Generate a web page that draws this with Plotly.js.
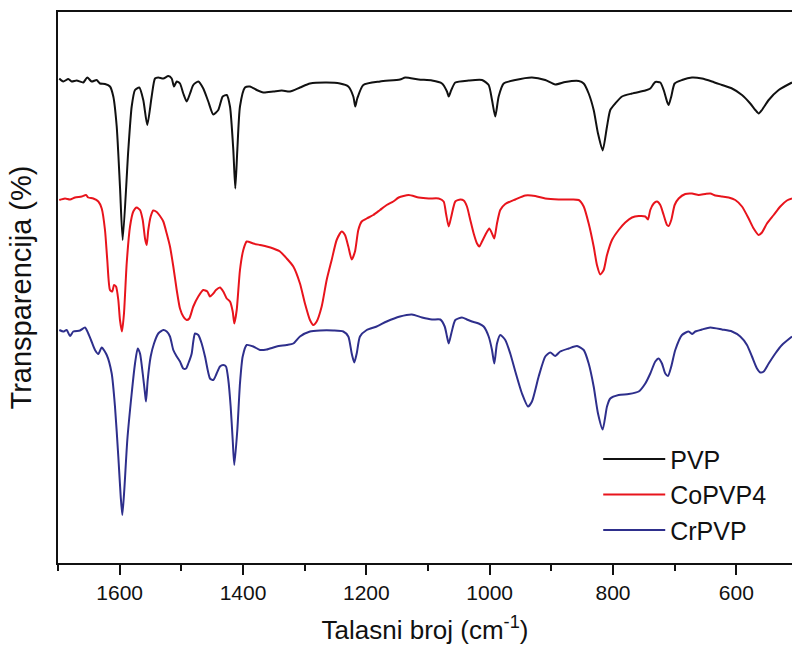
<!DOCTYPE html>
<html>
<head>
<meta charset="utf-8">
<script src="https://cdn.plot.ly/plotly-3.0.1.min.js"></script>
<style>html,body{margin:0;padding:0;background:#fff;}#chart{width:792px;height:652px;}</style>
</head>
<body>
<div id="chart"></div>
<script>
// ---- Data (wavenumber in cm^-1, transparency in %, curves offset for clarity) ----
const seriesNames = ["PVP", "CoPVP4", "CrPVP"];

const wnPVP = [1697.9,1691.4,1683.3,1677.8,1669.7,1659,1652.5,1645.4,1637.2,1631.9,1623.8,1615.7,1610.3,1604.8,1599.5,1595.1,1586,1580.5,1575.1,1568.2,1561.7,1555.2,1548.1,1542.7,1537.4,1529.2,1521.1,1515.6,1511.9,1507.5,1502.2,1496.8,1491.3,1485.9,1480.6,1472.5,1464.4,1456.3,1448.2,1440.1,1432.9,1426.4,1421.1,1415.7,1412.5,1409.2,1404.9,1396.8,1388.7,1377.8,1367.1,1350.9,1337.2,1323.8,1307.6,1291.4,1264.3,1242.7,1229.2,1221.1,1217.9,1214.7,1204.9,1177.8,1145.4,1136.8,1115.1,1093.5,1077.3,1069.2,1066.4,1062.2,1055.7,1034,1012.4,1001.6,996.2,990.9,985.4,977.3,958.4,931.4,909.8,893.6,877.4,855.6,847.5,839.4,831.3,824.3,816.7,809.7,804.4,796.3,785.4,769.2,747.6,739.5,731.4,723.3,717.8,712.4,709.7,705.5,700,688.1,671.9,655.7,639.5,623.3,607,590.8,577.4,569.2,563.7,558.4,547.5,531.3,509.7];
const tPVP = [96.9,96.3,96.8,96.3,96.5,96.1,97.1,96.3,96.6,95.9,95.8,95.3,93.3,87.3,75.3,64.6,82.6,91.3,94.6,95.1,92.6,87.6,93.3,96.9,97.1,96.9,97.4,96.9,95.3,96.3,95.9,93.9,92.3,93.9,95.6,96.3,94.9,92.3,89.7,90.6,93.3,93.6,91.3,82.6,74.9,82.6,91.3,95.1,95.3,94.6,94.1,94.3,94.5,94.3,95.1,95.9,96.1,95.9,95.3,93.3,91.3,92.9,95.6,96.3,96.7,97.1,96.7,96.5,95.9,94.3,93.3,94.6,96.1,96.5,96.6,95.6,92.6,89.3,93.3,95.9,96.6,97.1,96.6,95.7,96.2,96.4,95.9,93.9,90.6,85.9,82.5,87.3,90.6,91.9,93.3,93.9,94.5,94.9,96.2,96.1,94.6,92.3,91.6,93.3,95.9,96.6,97.1,96.9,96.3,95.6,94.9,93.6,91.9,90.6,89.9,90.6,92.6,94.6,96.1];

const wnCo = [1697.9,1688.6,1680.5,1672.4,1661.6,1654.6,1650.9,1642.8,1634.6,1629.1,1623.8,1620.1,1615.7,1611.9,1609.2,1605.9,1602.2,1599.5,1596.2,1593,1588.6,1583.2,1577.9,1572.4,1567,1562.6,1558.9,1556.2,1553.6,1549.7,1545.5,1539.9,1534.6,1529.2,1523.7,1518.4,1513,1507.5,1502.2,1496.8,1491.3,1487.1,1480.6,1472.5,1464.4,1457.9,1453.5,1448.2,1443.8,1437.3,1432,1426.4,1421.1,1416.7,1414.1,1410.2,1404.9,1399.5,1394,1383.3,1372.4,1361.6,1350.9,1340,1329.1,1318.4,1307.6,1299.5,1291.4,1286,1280.5,1272.4,1264.3,1256.2,1248.1,1240,1234.6,1229.2,1223.7,1218.4,1213,1207.5,1199.4,1188.7,1177.8,1167,1156.3,1147.5,1131.3,1115.1,1098.9,1082.7,1074.6,1070.8,1066.4,1062.2,1055.7,1047.6,1042.1,1036.8,1031.4,1025.9,1020.5,1016.8,1012.4,1007.1,1000.6,996.2,992.5,988.1,982.8,974.7,958.4,942.2,926,909.8,888.1,866.5,855.6,847.5,839.4,831.3,826,820.6,815.1,809.7,801.6,790.8,780.1,769.2,758.3,747.6,743.3,739.5,734,728.7,723.3,717.8,712.4,709.7,705.5,700,693.5,682.8,671.9,661,650.3,642.2,634.1,623.3,612.4,601.7,590.8,580,571.9,563.7,558.4,550.3,539.4,528.7,517.9,509.7];
const tCo = [72.6,72.9,72.7,73.1,73.3,73.6,73.1,72.9,72.3,70.9,66.6,60.6,54.6,54.3,55.6,55.3,52.6,48.6,46.3,49.9,59.9,67.3,70.3,71.1,70.6,68.6,64.9,63.6,66.6,69.3,70.5,70.2,69.4,68.3,65.9,63.3,59.3,54.6,50.9,49.3,48.6,48.9,51.3,53.3,54.6,54.3,53.3,53.9,54.6,55.1,54.3,52.9,52.3,50.3,47.9,50.6,58.6,62.6,64.3,63.9,63.6,63.3,62.9,62.3,60.9,59.3,55.9,51.9,48.6,47.6,48.3,51.3,56.6,60.6,64.6,66.3,65.6,63.3,60.7,62.3,66.6,68.3,68.9,69.6,70.6,71.6,72.3,73.1,73.6,73.1,72.9,72.9,72.3,69.9,67.3,69.3,72.3,72.7,72.5,71.3,68.6,65.9,63.9,63.3,64.3,65.6,66.9,65.9,64.9,67.9,70.6,71.8,72.7,73.5,73.4,72.9,72.7,72.7,72.6,71.3,67.9,63.3,59.6,57.7,58.6,61.6,64.6,66.6,68.1,69.1,69.4,69.3,68.7,70.6,71.9,72.3,71.6,69.6,67.6,67.4,68.6,71.6,72.9,73.8,73.9,73.6,73.8,73.9,73.5,73.3,73.1,72.6,71.3,68.9,66.9,65.6,66.1,67.9,69.6,71.3,72.5,72.9];

const wnCr = [1697.9,1691.4,1685.9,1680.5,1675.2,1664.3,1656.2,1650.9,1646.5,1640,1634.6,1629.1,1621,1612.9,1607.6,1602.2,1598.3,1595.7,1592.5,1587.6,1580.5,1575.1,1570.8,1567,1562.6,1558.9,1557.3,1554.5,1549.7,1544.3,1537.4,1529.2,1523.7,1518.4,1513,1507.5,1502.2,1496.8,1492.4,1488.7,1483.2,1480.6,1477.8,1472.5,1467,1461.6,1453.5,1448.2,1442.7,1437.3,1432,1427.6,1423.8,1420,1416.7,1414.1,1409.2,1404.9,1400.5,1394,1383.3,1372.4,1361.6,1345.4,1329.1,1318.4,1307.6,1291.4,1275.1,1253.6,1237.4,1229.2,1223.7,1219.5,1215.6,1210.3,1199.4,1183.2,1167,1145.4,1126,1109.7,1093.5,1080.1,1072.9,1069.2,1066.4,1062.2,1055.7,1044.9,1036.8,1028.7,1017.8,1009.7,1001.6,996.2,992.5,988.1,982.8,974.7,966.6,958.4,947.6,937.8,931.4,920.5,909.8,901.7,893.6,885.5,871.8,858.4,847.5,839.4,831.3,824.3,816.7,809.7,804.4,790.8,774.6,758.3,747.6,739.5,731.4,725.9,720.6,715.2,710.8,705.5,699,688.1,677.3,671.9,666.5,655.7,642.2,623.3,607,593.6,582.7,574.6,566.5,561.1,555.6,547.5,536.8,526,509.7];
const tCr = [46.6,46.3,46.6,45.4,46.3,46.5,47.1,45.9,44.6,42.6,41.8,43.1,41.6,37.9,31.3,21.3,13.3,9.6,14.6,24.6,33.9,39.9,42.9,41.9,37.9,33.9,32.3,36.6,41.3,43.9,45.9,46.6,46.3,45.3,42.6,41.3,40.3,38.9,38.9,39.9,41.9,44.3,45.9,45.6,43.9,41.3,36.9,36.6,37.9,39.3,39.6,39.3,36.6,31.3,24.6,19.6,26.6,35.9,41.3,43.6,43.3,42.6,42.7,43.3,43.6,43.9,45.3,46.3,46.5,46.5,46.3,45.3,41.9,40.1,41.9,45.3,46.6,47.3,48.3,49.3,49.7,49.1,48.7,48.7,47.3,45.3,43.9,45.9,48.6,49.1,48.7,48.3,47.9,47.3,45.3,42.6,39.9,43.9,45.6,44.6,41.9,38.3,33.9,31.3,32.3,37.3,41.3,42.1,41.4,42.3,42.9,43.4,42.6,39.9,35.3,29.9,26.7,31.3,32.9,33.6,33.8,34.3,35.9,37.9,40.3,40.9,39.9,37.9,37.4,39.3,42.6,45.6,46.3,45.8,46.3,46.7,47.1,46.7,46.3,45.3,43.6,41.3,38.9,38.1,38.3,39.9,41.9,43.6,45.3];

const xTickVals = [1600, 1400, 1200, 1000, 800, 600];
const xTickText = ["1600", "1400", "1200", "1000", "800", "600"];
const colors = ["#111111", "#e8141c", "#2e2f8c"];

const FONT = "Liberation Sans, Arial, sans-serif";

const traces = [
  {x: wnPVP, y: tPVP, name: seriesNames[0]},
  {x: wnCo, y: tCo, name: seriesNames[1]},
  {x: wnCr, y: tCr, name: seriesNames[2]}
].map((t, i) => Object.assign(t, {
  type: "scatter", mode: "lines",
  line: {color: colors[i], width: 2, shape: "spline", smoothing: 0.6}
}));

const layout = {
  width: 792, height: 652,
  margin: {l: 58, r: 0, t: 12, b: 89, pad: 0},
  paper_bgcolor: "#ffffff", plot_bgcolor: "#ffffff",
  font: {family: FONT, color: "#111111"},
  showlegend: true,
  legend: {
    x: 0.736, y: 0.23, xanchor: "left", yanchor: "top",
    bgcolor: "rgba(0,0,0,0)", borderwidth: 0,
    font: {family: FONT, size: 25, color: "#111111"},
    itemwidth: 62, tracegroupgap: 0
  },
  xaxis: {
    range: [1700, 509.7], autorange: false,
    showline: true, linecolor: "#111111", linewidth: 2, mirror: true,
    showgrid: false, zeroline: false,
    tickmode: "array", tickvals: xTickVals, ticktext: xTickText,
    ticks: "outside", ticklen: 10, tickwidth: 2, tickcolor: "#111111",
    minor: {tickmode: "linear", tick0: 1700, dtick: 100, ticks: "outside", ticklen: 6, tickwidth: 2, tickcolor: "#111111", showgrid: false},
    tickfont: {family: FONT, size: 21, color: "#111111"},
    title: {text: "Talasni broj (cm<sup>-1</sup>)", font: {family: FONT, size: 26, color: "#111111"}, standoff: 18}
  },
  yaxis: {
    range: [0, 110.2], autorange: false,
    showline: true, linecolor: "#111111", linewidth: 2,
    showgrid: false, zeroline: false, showticklabels: false, ticks: "",
    title: {text: "Transparencija (%)", font: {family: FONT, size: 29, color: "#111111"}, standoff: 16}
  }
};

Plotly.newPlot("chart", traces, layout, {displayModeBar: false, staticPlot: true});
</script>
</body>
</html>
